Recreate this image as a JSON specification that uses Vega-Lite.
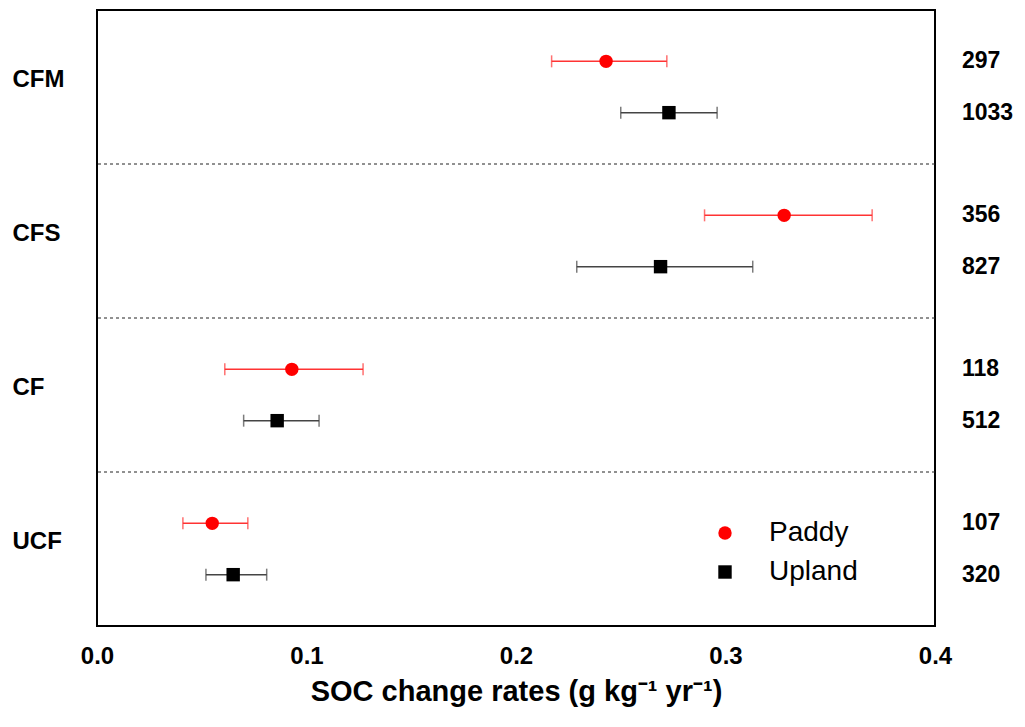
{
  "$schema": "https://vega.github.io/schema/vega-lite/v6.json",
  "autosize": "none",
  "width": 838,
  "height": 616,
  "padding": {"left": 97, "top": 10, "right": 90, "bottom": 101},
  "background": "white",
  "config": {
    "font": "Liberation Sans",
    "view": {"stroke": "#000000", "strokeWidth": 2}
  },
  "data": {
    "values": [
      {"group": "CFM", "type": "Paddy", "mean": 0.243, "lo": 0.217, "hi": 0.272, "n": "297"},
      {"group": "CFM", "type": "Upland", "mean": 0.273, "lo": 0.250, "hi": 0.296, "n": "1033"},
      {"group": "CFS", "type": "Paddy", "mean": 0.328, "lo": 0.290, "hi": 0.370, "n": "356"},
      {"group": "CFS", "type": "Upland", "mean": 0.269, "lo": 0.229, "hi": 0.313, "n": "827"},
      {"group": "CF", "type": "Paddy", "mean": 0.093, "lo": 0.061, "hi": 0.127, "n": "118"},
      {"group": "CF", "type": "Upland", "mean": 0.086, "lo": 0.070, "hi": 0.106, "n": "512"},
      {"group": "UCF", "type": "Paddy", "mean": 0.055, "lo": 0.041, "hi": 0.072, "n": "107"},
      {"group": "UCF", "type": "Upland", "mean": 0.065, "lo": 0.052, "hi": 0.081, "n": "320"}
    ]
  },
  "encoding": {
    "y": {
      "field": "group", "type": "nominal",
      "sort": ["CFM", "CFS", "CF", "UCF"],
      "scale": {"paddingInner": 0, "paddingOuter": 0},
      "axis": {
        "title": null, "ticks": false, "tickSize": 0, "domain": false, "grid": false,
        "labelAlign": "left", "labelPadding": 85, "labelFontSize": 24, "labelOffset": -7,
        "labelFontWeight": "bold", "labelColor": "#000000"
      }
    }
  },
  "layer": [
    {
      "transform": [{"filter": "datum.group != 'CFM' && datum.type == 'Paddy'"}],
      "mark": {"type": "rule", "strokeDash": [3, 3], "color": "#222222", "strokeWidth": 1},
      "encoding": {
        "y": {"field": "group", "type": "nominal", "sort": ["CFM", "CFS", "CF", "UCF"], "bandPosition": 0}
      }
    },
    {
      "mark": {"type": "rule", "strokeWidth": 1.5},
      "encoding": {
        "x": {
          "field": "lo", "type": "quantitative",
          "scale": {"domain": [0, 0.4], "nice": false, "zero": false},
          "axis": {
            "values": [0, 0.1, 0.2, 0.3, 0.4], "format": ".1f", "ticks": false, "tickSize": 0,
            "domain": false, "grid": false, "labelFlush": false, "labelPadding": 18, "labelFontSize": 24,
            "labelFontWeight": "bold", "labelColor": "#000000",
            "title": "SOC change rates (g kg⁻¹ yr⁻¹)", "titleFontSize": 29,
            "titleFontWeight": "bold", "titleColor": "#000000", "titlePadding": 9
          }
        },
        "x2": {"field": "hi"},
        "yOffset": {"field": "type", "type": "nominal", "sort": ["Paddy", "Upland"], "scale": {"paddingInner": 0, "paddingOuter": 0.5}},
        "color": {"condition": {"test": "datum.type == 'Paddy'", "value": "#ff3333"}, "value": "#444444"}
      }
    },
    {
      "mark": {"type": "tick", "size": 12, "thickness": 1.5},
      "encoding": {
        "x": {"field": "lo", "type": "quantitative"},
        "yOffset": {"field": "type", "type": "nominal", "sort": ["Paddy", "Upland"]},
        "color": {"condition": {"test": "datum.type == 'Paddy'", "value": "#ff3333"}, "value": "#444444"}
      }
    },
    {
      "mark": {"type": "tick", "size": 12, "thickness": 1.5},
      "encoding": {
        "x": {"field": "hi", "type": "quantitative"},
        "yOffset": {"field": "type", "type": "nominal", "sort": ["Paddy", "Upland"]},
        "color": {"condition": {"test": "datum.type == 'Paddy'", "value": "#ff3333"}, "value": "#444444"}
      }
    },
    {
      "mark": {"type": "point", "filled": true, "size": 180, "opacity": 1},
      "encoding": {
        "x": {"field": "mean", "type": "quantitative"},
        "yOffset": {"field": "type", "type": "nominal", "sort": ["Paddy", "Upland"]},
        "color": {
          "field": "type", "type": "nominal",
          "scale": {"domain": ["Paddy", "Upland"], "range": ["#ff0000", "#000000"]},
          "legend": {
            "title": null, "orient": "none", "legendX": 614, "legendY": 509, "padding": 0,
            "labelFontSize": 28, "labelColor": "#000000", "labelOffset": 30,
            "symbolSize": 180, "rowPadding": 11, "symbolStrokeWidth": 0
          }
        },
        "shape": {
          "field": "type", "type": "nominal",
          "scale": {"domain": ["Paddy", "Upland"], "range": ["circle", "square"]},
          "legend": {
            "title": null, "orient": "none", "legendX": 614, "legendY": 509, "padding": 0,
            "labelFontSize": 28, "labelColor": "#000000", "labelOffset": 30,
            "symbolSize": 180, "rowPadding": 11, "symbolStrokeWidth": 0
          }
        }
      }
    },
    {
      "mark": {"type": "text", "align": "left", "baseline": "middle", "dx": 27, "fontSize": 23, "fontWeight": "bold", "color": "#000000"},
      "encoding": {
        "x": {"datum": 0.4, "type": "quantitative"},
        "yOffset": {"field": "type", "type": "nominal", "sort": ["Paddy", "Upland"]},
        "text": {"field": "n", "type": "nominal"}
      }
    }
  ]
}
